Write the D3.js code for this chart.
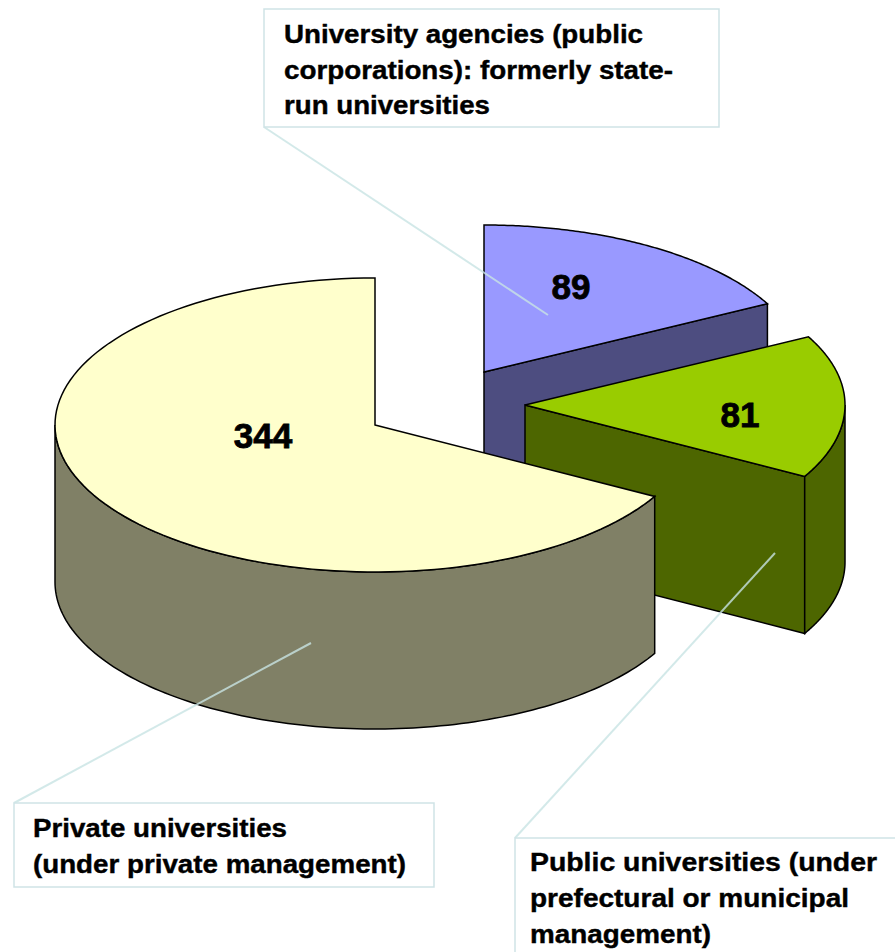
<!DOCTYPE html>
<html>
<head>
<meta charset="utf-8">
<script src="https://cdnjs.cloudflare.com/ajax/libs/d3/7.8.5/d3.min.js"></script>
<style>
html,body{margin:0;padding:0;background:#fff;overflow:hidden}
svg{display:block}
text{font-family:"Liberation Sans",Arial,sans-serif;font-weight:bold;fill:#000}
</style>
</head>
<body>
<svg id="c" width="895" height="952"></svg>
<script>
const categories = ["University agencies", "Public universities", "Private universities"];
const values = [89, 81, 344];
const topColors = ["#9999ff", "#99cc00", "#ffffcc"];
const sideColors = ["#4d4d80", "#4d6600", "#808066"];

const svg = d3.select("#c");
const rx = 320, ry = 147, depth = 157;
const centres = [[484, 372], [525, 405], [375, 425]];
const valuePos = [[571, 299], [740, 427], [263, 448]];

const arcs = d3.pie().sort(null).startAngle(0).endAngle(2 * Math.PI)(values);
const px = d3.scaleLinear().domain([-1, 1]).range([-rx, rx]);
const py = d3.scaleLinear().domain([-1, 1]).range([-ry, ry]);
const line = d3.line();
const pt = (c, a, dz = 0) => [c[0] + px(Math.sin(a)), c[1] - py(Math.cos(a)) + dz];
const samples = (a0, a1) => d3.range(0, 121).map(i => a0 + (a1 - a0) * i / 120);
const stroke = "#000";
const sw = 1.5;

function drawSlice(i) {
  const d = arcs[i], c = centres[i];
  const a0 = d.startAngle, a1 = d.endAngle;
  // radial wall at the end angle (only where it faces the viewer)
  if (i < 2) {
    const p = pt(c, a1);
    svg.append("path").attr("d", line([c, p, [p[0], p[1] + depth], [c[0], c[1] + depth]]) + "Z")
      .attr("fill", sideColors[i]).attr("stroke", stroke).attr("stroke-width", sw);
  }
  // outer rim: front half of the ellipse
  const r0 = Math.max(a0, Math.PI / 2), r1 = Math.min(a1, 3 * Math.PI / 2);
  if (r1 > r0) {
    const front = samples(r0, r1).map(a => pt(c, a));
    const back = samples(r1, r0).map(a => pt(c, a, depth));
    svg.append("path").attr("d", line(front.concat(back)) + "Z")
      .attr("fill", sideColors[i]).attr("stroke", stroke).attr("stroke-width", sw);
  }
  // top face
  const top = [c].concat(samples(a0, a1).map(a => pt(c, a)));
  svg.append("path").attr("d", line(top) + "Z")
    .attr("fill", topColors[i]).attr("stroke", stroke).attr("stroke-width", sw);
}
[0, 1, 2].forEach(drawSlice);

// value labels
values.forEach((v, i) => {
  svg.append("text").attr("x", valuePos[i][0]).attr("y", valuePos[i][1])
    .attr("text-anchor", "middle").attr("font-size", 35)
    .attr("textLength", String(v).length * 19.5).attr("lengthAdjust", "spacingAndGlyphs")
    .attr("stroke", "#000").attr("stroke-width", 0.8).text(v);
});

// callouts
const callouts = [
  {box: [264, 9, 455, 118], from: [264, 127], to: [548, 315],
   lines: [["University agencies (public", 284, 43, 359], ["corporations): formerly state-", 284, 79, 389], ["run universities", 284, 114, 206]]},
  {box: [14, 803, 420, 84], from: [14, 803], to: [311, 643],
   lines: [["Private universities", 33, 837, 254], ["(under private management)", 33, 873, 373]]},
  {box: [515, 838, 390, 130], from: [515, 838], to: [775, 553],
   lines: [["Public universities (under", 530, 871, 347], ["prefectural or municipal", 530, 907, 319], ["management)", 530, 943, 181]]}
];
callouts.forEach(c => {
  svg.append("path").attr("d", line([c.from, c.to]))
    .attr("stroke", "#c8e4e4").attr("stroke-opacity", 0.8).attr("stroke-width", 2).attr("fill", "none");
  svg.append("rect").attr("x", c.box[0]).attr("y", c.box[1]).attr("width", c.box[2]).attr("height", c.box[3])
    .attr("fill", "#fff").attr("stroke", "#cfe3e6").attr("stroke-width", 1.5);
  c.lines.forEach(l => {
    svg.append("text").attr("x", l[1]).attr("y", l[2]).attr("font-size", 25)
      .attr("textLength", l[3]).attr("lengthAdjust", "spacingAndGlyphs")
      .attr("stroke", "#000").attr("stroke-width", 0.4).text(l[0]);
  });
});
</script>
</body>
</html>
